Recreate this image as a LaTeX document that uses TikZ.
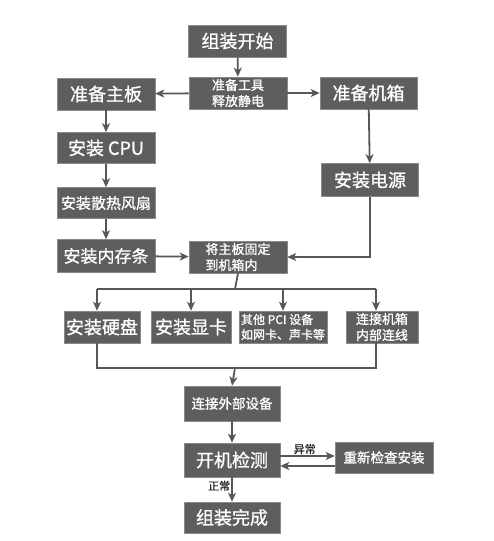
\documentclass[tikz,border=0pt]{standalone}
\usepackage{fontspec}
\setmainfont{Noto Sans CJK SC}[FakeBold=1]
\usetikzlibrary{arrows.meta}
\definecolor{boxgray}{HTML}{5E5E5E}
\definecolor{edgegray}{HTML}{8A8A8A}
\definecolor{linegray}{HTML}{575757}

\begin{document}
\begin{tikzpicture}[
x=1pt,y=-1pt,
flow/.style={-{Stealth[length=9pt,width=8pt,inset=2.5pt]},line width=1.8pt,draw=linegray},
wire/.style={line width=1.8pt,draw=linegray},
box/.style={draw=edgegray,line width=0.6pt,fill=boxgray,text=white,align=center,inner sep=2pt,minimum width=98pt,minimum height=32pt},
big/.style={box,font=\fontsize{18}{20}\selectfont},
mid/.style={box,font=\fontsize{15}{17}\selectfont},
small/.style={box,font=\fontsize{13}{16}\selectfont},
edgeLabel/.style={font=\fontsize{11}{12}\selectfont,text=black!85,inner sep=1pt}
]
\useasboundingbox (0,0) rectangle (493,541);

\node[big] (start) at (237.5,41) {组装开始};
\node[small] (prep) at (238,93) {准备工具\\释放静电};
\node[big] (board) at (106,94) {准备主板};
\node[big,minimum width=97pt] (case) at (368.5,93) {准备机箱};
\node[big,minimum height=31pt] (cpu) at (106,148) {安装 CPU};
\node[big,minimum width=97pt,minimum height=33pt] (power) at (370,180) {安装电源};
\node[mid,minimum height=31pt] (fan) at (106,203) {安装散热风扇};
\node[box,font=\fontsize{17}{19}\selectfont,minimum height=33pt] (ram) at (106,256) {安装内存条};
\node[small,align=left] (fix) at (238,257) {将主板固定\\到机箱内};

\node[big,minimum width=72pt] (hdd) at (102,327) {安装硬盘};
\node[big,minimum width=80pt] (gpu) at (191,327) {安装显卡};
\node[box,font=\fontsize{12}{15}\selectfont,align=left,minimum width=82pt] (pci) at (283,327) {其他 PCI 设备\\如网卡、声卡等};
\node[small,minimum width=72pt] (inner) at (382,327) {连接机箱\\内部连线};

\node[small,font=\fontsize{13.5}{16}\selectfont,minimum width=96pt,minimum height=35pt] (ext) at (232,403.5) {连接外部设备};
\node[big,minimum width=96pt,minimum height=34pt] (boot) at (232,460) {开机检测};
\node[small,font=\fontsize{13.5}{16}\selectfont,minimum height=31pt] (recheck) at (384,457.5) {重新检查安装};
\node[big,minimum width=96pt,minimum height=31pt] (done) at (232,517.5) {组装完成};

\coordinate (split) at (235,289);
\coordinate (merge) at (235,368);

\draw[flow] (start) -- (prep);
\draw[flow] (prep) -- (board);
\draw[flow] (prep) -- (case);
\foreach \a/\b in {board/cpu,cpu/fan,fan/ram,case/power,ram/fix,ext/boot}
 \draw[flow] (\a) -- (\b);
\draw[flow] (power.south) |- (fix.east);

% branch to the four install steps
\draw[wire] (fix.south) -- (split);
\draw[wire] ([xshift=-5pt]hdd.north |- split) -- ([xshift=-6pt]inner.north |- split);
\draw[flow] ([xshift=-5pt]hdd.north |- split) -- ([xshift=-5pt]hdd.north);
\draw[flow] (gpu.north |- split) -- (gpu.north);
\draw[flow] (pci.north |- split) -- (pci.north);
\draw[flow] ([xshift=-6pt]inner.north |- split) -- ([xshift=-6pt]inner.north);

\draw[wire] ([xshift=-5pt]hdd.south) |- (merge);
\draw[wire] ([xshift=-6pt]inner.south) |- (merge);
\draw[flow] (merge) -- (ext.north);

\draw[flow] ([yshift=4pt]boot.east) -- node[edgeLabel,above,pos=0.45]{异常} ([yshift=4pt]boot.east -| recheck.west);
\draw[flow] ([yshift=-6pt]boot.east -| recheck.west) -- ([yshift=-6pt]boot.east);
\draw[flow] (boot) -- node[edgeLabel,left,pos=0.35]{正常} (done);
\end{tikzpicture}
\end{document}
